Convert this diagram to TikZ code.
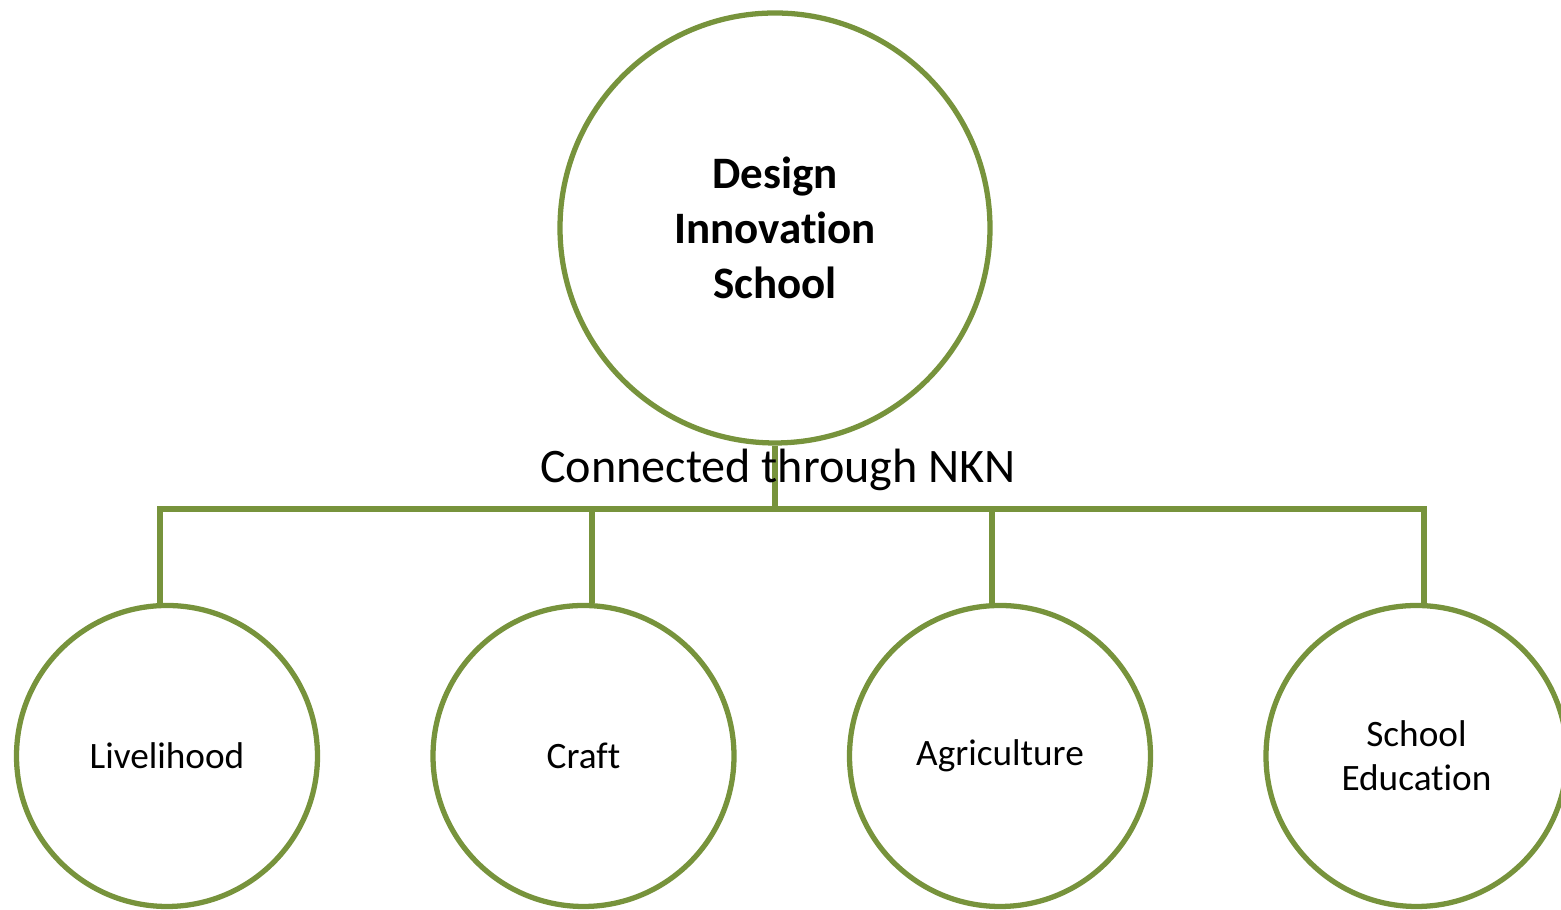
\documentclass[tikz,border=0pt]{standalone}
\usepackage{fontspec}
\setmainfont{Carlito}[Ligatures={NoCommon,NoContextual,NoRare,NoDiscretionary}, RawFeature={-liga;-clig;-calt;-dlig}]
\usepackage{xcolor}
\usetikzlibrary{positioning}
\definecolor{leafgreen}{HTML}{77933C}

\begin{document}
\begin{tikzpicture}[node distance=4.165cm,
    hub/.style={circle, draw=leafgreen, line width=1.5pt, minimum size=4.30cm, inner sep=0pt, align=center, font=\bfseries\fontsize{12.8}{15.6}\selectfont},
    leaf/.style={circle, draw=leafgreen, line width=1.5pt, minimum size=3.01cm, inner sep=0pt, align=center, font=\fontsize{10.6}{12.5}\selectfont},
    link/.style={draw=leafgreen, line width=1.5pt}]
    \useasboundingbox (0,0) rectangle (15.61,9.10);

    \node[hub] (dis) at (7.75,6.82) {Design\\Innovation\\School};
    \node[leaf] (liv) at (1.67,1.54) {Livelihood};
    \node[leaf] (cra) [right of=liv] {Craft};
    \node[leaf] (agr) [right of=cra] {Agriculture};
    \node[leaf] (sch) [right of=agr] {School\\Education};

    \coordinate (top) at (7.75,4.01);
    \coordinate (b1) at (1.60,4.01);
    \coordinate (b2) at (5.92,4.01);
    \coordinate (b3) at (9.92,4.01);
    \coordinate (b4) at (14.24,4.01);

    \draw[link] (dis) -- (top);
    \draw[link] (b1 |- liv.north) -- (b1) -- (b4) -- (b4 |- sch.north);
    \draw[link] (b2) -- (b2 |- cra.north);
    \draw[link] (b3) -- (b3 |- agr.north);

    \node (nkn) at (7.78,4.40) {\fontsize{13.7}{16}\selectfont Connected through NKN};
\end{tikzpicture}
\end{document}
